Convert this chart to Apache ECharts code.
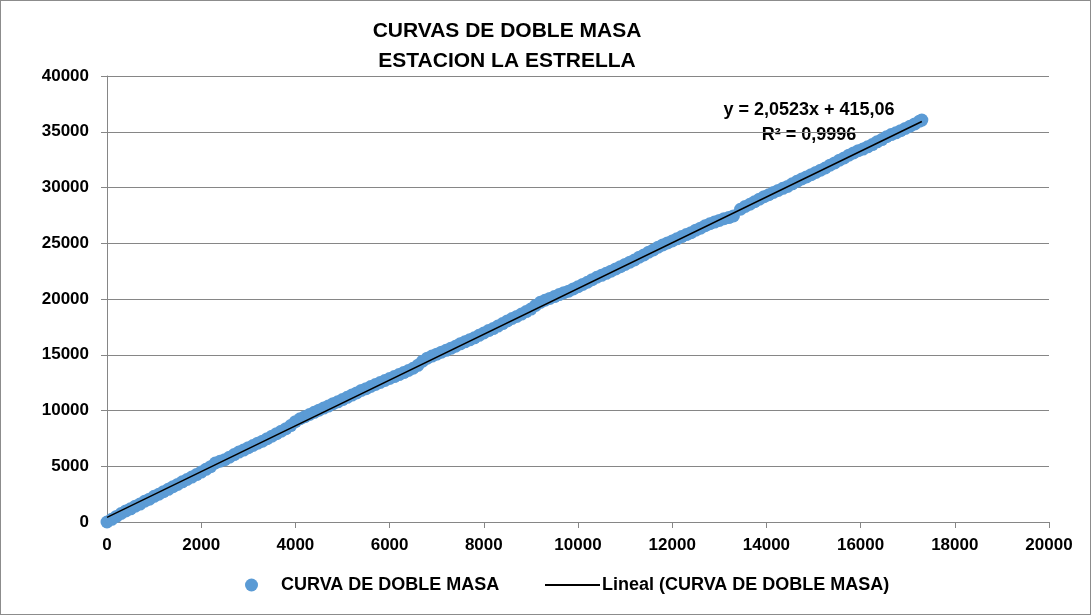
<!DOCTYPE html>
<html>
<head>
<meta charset="utf-8">
<script src="https://cdn.jsdelivr.net/npm/echarts@6/dist/echarts.min.js"></script>
<style>
  html, body { margin: 0; padding: 0; background: #fff; }
  #chart { width: 1089px; height: 613px; border: 1px solid #8c8c8c; }
</style>
</head>
<body>
<div id="chart"></div>
<script>
// precipitacion acumulada: estacion patron (x) vs estacion La Estrella (y)
const acumX = [
  0, 100, 200, 300, 400, 500, 600, 700, 800, 900, 1000, 1100, 1200, 1300, 1400, 1500,
  1600, 1700, 1800, 1900, 2000, 2100, 2200, 2300, 2400, 2500, 2600, 2700, 2800, 2900,
  3000, 3100, 3200, 3300, 3400, 3500, 3600, 3700, 3800, 3900, 4000, 4100, 4200, 4300,
  4400, 4500, 4600, 4700, 4800, 4900, 5000, 5100, 5200, 5300, 5400, 5500, 5600, 5700,
  5800, 5900, 6000, 6100, 6200, 6300, 6400, 6500, 6600, 6700, 6800, 6900, 7000, 7100,
  7200, 7300, 7400, 7500, 7600, 7700, 7800, 7900, 8000, 8100, 8200, 8300, 8400, 8500,
  8600, 8700, 8800, 8900, 9000, 9100, 9200, 9300, 9400, 9500, 9600, 9700, 9800, 9900,
  10000, 10100, 10200, 10300, 10400, 10500, 10600, 10700, 10800, 10900, 11000, 11100,
  11200, 11300, 11400, 11500, 11600, 11700, 11800, 11900, 12000, 12100, 12200, 12300,
  12400, 12500, 12600, 12700, 12800, 12900, 13000, 13100, 13200, 13300,
  13450, 13550, 13650, 13750, 13850, 13950, 14050, 14150, 14250, 14350, 14450, 14550,
  14650, 14750, 14850, 14950, 15050, 15150, 15250, 15350, 15450, 15550, 15650, 15750,
  15850, 15950, 16050, 16150, 16250, 16350, 16450, 16550, 16650, 16750, 16850, 16950,
  17050, 17150, 17250, 17300
];
const acumY = [
  0, 240, 500, 760, 990, 1180, 1420, 1610, 1860, 2050, 2300, 2490, 2720, 2930, 3160, 3370,
  3600, 3810, 4030, 4250, 4480, 4720, 4960, 5290, 5450, 5590, 5810, 6050, 6270, 6450,
  6670, 6860, 7070, 7250, 7470, 7700, 7920, 8150, 8370, 8650, 9000, 9260, 9450, 9640,
  9840, 10030, 10220, 10400, 10610, 10780, 10980, 11180, 11380, 11580, 11800, 11960, 12150, 12330,
  12510, 12690, 12870, 13040, 13220, 13400, 13590, 13790, 14050, 14420, 14690, 14880, 15050, 15230,
  15400, 15580, 15760, 15980, 16160, 16340, 16520, 16740, 16950, 17170, 17350, 17570, 17800, 18030,
  18250, 18440, 18650, 18870, 19100, 19420, 19700, 19890, 20050, 20220, 20400, 20570, 20700, 20900,
  21100, 21310, 21500, 21730, 21950, 22120, 22300, 22500, 22700, 22900, 23100, 23300,
  23500, 23750, 23950, 24200, 24400, 24650, 24850, 25030, 25200, 25400, 25600, 25780,
  25950, 26170, 26350, 26570, 26750, 26900, 27050, 27200, 27300, 27450,
  28050, 28300, 28500, 28720, 28950, 29180, 29350, 29550, 29740, 29930, 30100, 30330,
  30550, 30760, 30950, 31150, 31350, 31550, 31750, 32000, 32200, 32450, 32650, 32900,
  33100, 33300, 33450, 33650, 33850, 34100, 34300, 34550, 34750, 34900, 35100, 35300,
  35500, 35700, 35950, 36050
];

// linea de tendencia (Excel): y = 2,0523x + 415,06
const pendiente = 2.0523;
const intercepto = 415.06;
const r2 = '0,9996';

const xTicks = { min: 0, max: 20000, interval: 2000 };
const yTicks = { min: 0, max: 40000, interval: 5000 };

const serieNombre = 'CURVA DE DOBLE MASA';
const tendNombre = 'Lineal (CURVA DE DOBLE MASA)';

const puntos = acumX.map((x, i) => [x, acumY[i]]);
const xFin = acumX[acumX.length - 1];
const tendencia = [
  [0, intercepto],
  [xFin, pendiente * xFin + intercepto]
];

const fuente = '"Liberation Sans", Arial, sans-serif';
const gris = '#868686';

const chart = echarts.init(document.getElementById('chart'));
chart.setOption({
  animation: false,
  textStyle: { fontFamily: fuente },
  grid: { left: 106, right: 41, top: 75, bottom: 92 },
  graphic: [
    {
      type: 'text', x: 506, y: 20,
      style: { text: 'CURVAS DE DOBLE MASA', font: 'bold 21px ' + fuente, fill: '#000', align: 'center' }
    },
    {
      type: 'text', x: 506, y: 50,
      style: { text: 'ESTACION LA ESTRELLA', font: 'bold 21px ' + fuente, fill: '#000', align: 'center' }
    },
    {
      type: 'text', x: 808, y: 100,
      style: { text: 'y = 2,0523x + 415,06', font: 'bold 18px ' + fuente, fill: '#000', align: 'center' }
    },
    {
      type: 'text', x: 808, y: 125,
      style: { text: 'R² = ' + r2, font: 'bold 18px ' + fuente, fill: '#000', align: 'center' }
    }
  ],
  legend: [
    {
      data: [serieNombre],
      left: 239, top: 570,
      icon: 'circle',
      itemWidth: 13, itemHeight: 13,
      textStyle: { fontWeight: 'bold', fontSize: 18, color: '#000', padding: [0, 0, 0, 18] }
    },
    {
      data: [tendNombre],
      left: 539, top: 570,
      icon: 'rect',
      itemWidth: 55, itemHeight: 2,
      itemStyle: { color: '#000' },
      textStyle: { fontWeight: 'bold', fontSize: 18, color: '#000', padding: [0, 0, 0, -3] }
    }
  ],
  xAxis: {
    type: 'value',
    min: xTicks.min, max: xTicks.max, interval: xTicks.interval,
    axisLine: { show: true, onZero: false, lineStyle: { color: gris, width: 1 } },
    axisTick: { show: true, length: 6, lineStyle: { color: gris } },
    axisLabel: { color: '#000', fontWeight: 'bold', fontSize: 17, margin: 15, formatter: v => String(v) },
    splitLine: { show: false }
  },
  yAxis: {
    type: 'value',
    min: yTicks.min, max: yTicks.max, interval: yTicks.interval,
    axisLine: { show: true, onZero: false, lineStyle: { color: gris, width: 1 } },
    axisTick: { show: true, length: 6, lineStyle: { color: gris } },
    axisLabel: { color: '#000', fontWeight: 'bold', fontSize: 17, margin: 18, formatter: v => String(v) },
    splitLine: { show: true, lineStyle: { color: gris, width: 1 } }
  },
  series: [
    {
      name: serieNombre,
      type: 'scatter',
      data: puntos,
      symbolSize: 13,
      itemStyle: { color: '#5b9bd5', opacity: 1 }
    },
    {
      name: tendNombre,
      type: 'line',
      data: tendencia,
      showSymbol: false,
      symbol: 'none',
      lineStyle: { color: '#000', width: 1.5 },
      itemStyle: { color: '#000' },
      z: 3
    }
  ]
});
</script>
</body>
</html>
